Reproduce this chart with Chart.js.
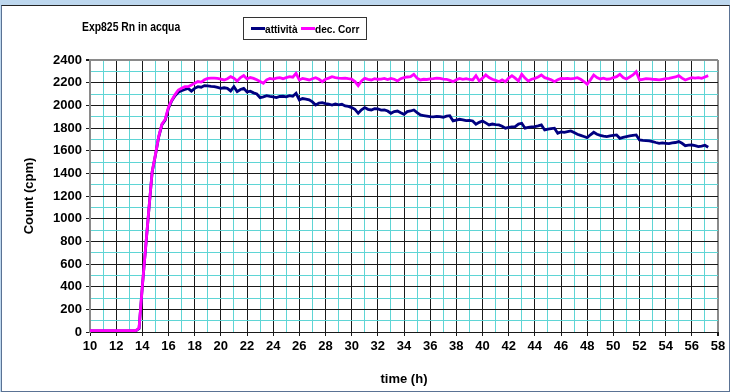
<!DOCTYPE html>
<html>
<head>
<meta charset="utf-8">
<script src="https://cdn.jsdelivr.net/npm/chart.js@4.4.1/dist/chart.umd.min.js"></script>
<style>
  html, body { margin: 0; padding: 0; }
  body { width: 730px; height: 392px; background: #bdd7ee; position: relative; overflow: hidden;
         font-family: "Liberation Sans", Arial, sans-serif; }
  #frame { position: absolute; left: 1px; top: 5px; width: 727px; height: 385px; background: #fff;
           border-top: 1px solid #222; border-left: 1px solid #5a7294; border-right: 1px solid #5a7294;
           border-bottom: 1px solid #5a7294; }
  #chart { position: absolute; left: 0; top: 0; }
  #title { position: absolute; left: 82px; top: 19px; font-weight: bold; font-size: 13px;
           transform: scaleX(0.8); transform-origin: left center; white-space: nowrap; }
  #legend { position: absolute; left: 243px; top: 17px; width: 124px; height: 23px; border: 1px solid #333;
            background: #fff; display: flex; align-items: center; padding-left: 7px; box-sizing: border-box; }
  .item { display: flex; align-items: center; margin-right: 3px; }
  .swatch { width: 14px; height: 3px; }
  .lbl { font-weight: bold; font-size: 11.5px; transform: scaleX(0.88); transform-origin: left center;
         white-space: nowrap; margin-right: -4px; }
</style>
</head>
<body>
<div id="frame"></div>
<canvas id="chart" width="730" height="392"></canvas>
<div id="title">Exp825 Rn in acqua</div>
<div id="legend"></div>
<script>
var TITLE = 'Exp825 Rn in acqua';
var SERIES_NAMES = ['attività', 'dec. Corr'];

// time (h)
var hours = [
    10, 11, 12, 13, 13.5, 13.75,
    14, 14.25, 14.5, 14.75, 15, 15.25, 15.5, 15.75, 16, 16.25, 16.5, 16.75,
    17, 17.25, 17.5, 17.75, 18, 18.25, 18.5, 18.75, 19, 19.25, 19.5, 19.75,
    20, 20.25, 20.5, 20.75, 21, 21.25, 21.5, 21.75, 22, 22.25, 22.5, 22.75,
    23, 23.25, 23.5, 23.75, 24, 24.25, 24.5, 24.75, 25, 25.25, 25.5, 25.75,
    26, 26.25, 26.5, 26.75, 27, 27.25, 27.5, 27.75, 28, 28.25, 28.5, 28.75,
    29, 29.25, 29.5, 29.75, 30, 30.25, 30.5, 30.75, 31, 31.25, 31.5, 31.75,
    32, 32.25, 32.5, 32.75, 33, 33.25, 33.5, 33.75, 34, 34.25, 34.5, 34.75,
    35, 35.25, 35.5, 35.75, 36, 36.25, 36.5, 36.75, 37, 37.25, 37.5, 37.75,
    38, 38.25, 38.5, 38.75, 39, 39.25, 39.5, 39.75, 40, 40.25, 40.5, 40.75,
    41, 41.25, 41.5, 41.75, 42, 42.25, 42.5, 42.75, 43, 43.25, 43.5, 43.75,
    44, 44.25, 44.5, 44.75, 45, 45.25, 45.5, 45.75, 46, 46.25, 46.5, 46.75,
    47, 47.25, 47.5, 47.75, 48, 48.25, 48.5, 48.75, 49, 49.25, 49.5, 49.75,
    50, 50.25, 50.5, 50.75, 51, 51.25, 51.5, 51.75, 52, 52.25, 52.5, 52.75,
    53, 53.25, 53.5, 53.75, 54, 54.25, 54.5, 54.75, 55, 55.25, 55.5, 55.75,
    56, 56.25, 56.5, 56.75, 57, 57.25
];

// attività (cpm)
var attivita = [
    10, 10, 10, 10, 10, 30,
    400, 740, 1080, 1410, 1560, 1720, 1830, 1870, 1975, 2040, 2085, 2115,
    2130, 2140, 2150, 2125, 2150, 2165, 2160, 2174, 2172, 2168, 2165, 2158,
    2150, 2155, 2150, 2127, 2165, 2121, 2140, 2150, 2118, 2125, 2110, 2100,
    2068, 2075, 2086, 2080, 2075, 2068, 2078, 2080, 2075, 2086, 2080, 2106,
    2048, 2060, 2055, 2048, 2030, 2003, 2020, 2024, 2015, 2010, 2003, 2012,
    2005, 2009, 1995, 1990, 1980, 1965, 1930, 1960, 1980, 1965, 1959, 1970,
    1968, 1958, 1960, 1950, 1930, 1945, 1950, 1935, 1921, 1945, 1950, 1959,
    1935, 1915, 1910, 1905, 1900, 1898, 1902, 1900, 1895, 1905, 1909, 1862,
    1870, 1877, 1872, 1865, 1868, 1862, 1833, 1850, 1862, 1845, 1827, 1835,
    1830, 1827, 1815, 1798, 1805, 1810, 1812, 1835, 1842, 1798, 1805, 1810,
    1812, 1818, 1827, 1783, 1790, 1795, 1798, 1754, 1765, 1762, 1768, 1774,
    1760, 1745, 1735, 1725, 1715, 1740, 1762, 1745, 1735, 1728, 1724, 1730,
    1735, 1739, 1709, 1718, 1724, 1730, 1735, 1739, 1695, 1690, 1688, 1686,
    1680, 1672, 1665, 1668, 1665, 1662, 1668, 1672, 1680, 1665, 1644, 1648,
    1650, 1645, 1636, 1640, 1648, 1630
];

// dec. Corr (cpm)
var decCorr = [
    12, 12, 12, 12, 12, 35,
    405, 745, 1085, 1415, 1565, 1725, 1835, 1878, 1985, 2045, 2095, 2135,
    2150, 2165, 2165, 2180, 2195, 2210, 2205, 2225, 2238, 2240, 2240, 2238,
    2232, 2224, 2235, 2253, 2240, 2215, 2245, 2263, 2233, 2245, 2238, 2225,
    2210, 2195, 2225, 2238, 2232, 2240, 2244, 2235, 2245, 2253, 2248, 2283,
    2224, 2238, 2232, 2224, 2235, 2244, 2230, 2209, 2230, 2240, 2253, 2245,
    2240, 2238, 2240, 2235, 2232, 2210, 2174, 2215, 2238, 2230, 2224, 2235,
    2230, 2232, 2238, 2228, 2238, 2230, 2215, 2235, 2244, 2250, 2253, 2274,
    2240, 2224, 2230, 2228, 2233, 2235, 2240, 2238, 2232, 2230, 2220, 2209,
    2225, 2238, 2230, 2235, 2228, 2224, 2262, 2215, 2240, 2268, 2245, 2230,
    2220, 2209, 2225, 2209, 2240, 2262, 2240, 2215, 2274, 2240, 2215, 2230,
    2238, 2250, 2268, 2244, 2235, 2225, 2209, 2225, 2238, 2235, 2238, 2233,
    2238, 2244, 2230, 2210, 2186, 2225, 2268, 2245, 2233, 2240, 2230, 2233,
    2245, 2253, 2274, 2245, 2233, 2250, 2268, 2297, 2224, 2230, 2235, 2233,
    2230, 2228, 2224, 2230, 2235, 2238, 2245, 2250, 2262, 2240, 2224, 2235,
    2244, 2240, 2244, 2238, 2250, 2262
];

var X_MIN = 10, X_MAX = 58;
var Y_MIN = 0, Y_MAX = 2400;

function toPoints(ys) {
    return hours.map(function (h, i) { return { x: h, y: ys[i] }; });
}

var MAJOR = '#1a1a1a';
var MINOR = '#5fd5d5';
var EDGE = '#8a8a8a';

var chart = new Chart(document.getElementById('chart'), {
    type: 'line',
    data: {
        datasets: [
            { label: SERIES_NAMES[0], data: toPoints(attivita), borderColor: '#000080', backgroundColor: '#000080',
              borderWidth: 2.8, pointRadius: 0, tension: 0, order: 1 },
            { label: SERIES_NAMES[1], data: toPoints(decCorr), borderColor: '#ff00ff', backgroundColor: '#ff00ff',
              borderWidth: 2.8, pointRadius: 0, tension: 0, order: 0 },
        ]
    },
    options: {
        responsive: false,
        animation: false,
        layout: { padding: { left: 20, top: 60, right: 12, bottom: 3 } },
        plugins: { legend: { display: false }, title: { display: false }, tooltip: { enabled: false } },
        scales: {
            x: {
                type: 'linear', min: X_MIN, max: X_MAX,
                afterFit: function (s) { s.height = 57; },
                ticks: {
                    stepSize: 1, autoSkip: false, maxRotation: 0, padding: 3, color: '#000',
                    font: { family: 'Liberation Sans, Arial', weight: 'bold', size: 13 },
                    callback: function (v) { return v % 2 === 0 ? String(v) : ''; }
                },
                grid: {
                    tickLength: 4,
                    color: function (c) { return c.tick.value === X_MAX ? EDGE : (c.tick.value % 2 === 0 ? MAJOR : MINOR); },
                    tickColor: function (c) { return c.tick.value % 2 === 0 ? MAJOR : 'rgba(0,0,0,0)'; },
                    lineWidth: function (c) { return c.tick.value === X_MAX ? 2 : 1; }
                },
                border: { color: MAJOR, width: 1 },
                title: { display: true, text: 'time (h)', color: '#000', padding: { top: 4, bottom: 2 },
                         font: { family: 'Liberation Sans, Arial', weight: 'bold', size: 13 } }
            },
            y: {
                min: Y_MIN, max: Y_MAX,
                afterFit: function (s) { s.width = 70; },
                ticks: {
                    stepSize: 100, autoSkip: false, padding: 4, color: '#000',
                    font: { family: 'Liberation Sans, Arial', weight: 'bold', size: 13 },
                    callback: function (v) { return v % 200 === 0 ? String(v) : ''; }
                },
                grid: {
                    tickLength: 4,
                    color: function (c) { return c.tick.value === Y_MAX ? EDGE : (c.tick.value % 200 === 0 ? MAJOR : MINOR); },
                    tickColor: function (c) { return c.tick.value % 200 === 0 ? MAJOR : 'rgba(0,0,0,0)'; },
                    lineWidth: function (c) { return c.tick.value === Y_MAX ? 2 : 1; }
                },
                border: { color: EDGE, width: 2 },
                title: { display: true, text: 'Count (cpm)', color: '#000', padding: { top: 2, bottom: 4 },
                         font: { family: 'Liberation Sans, Arial', weight: 'bold', size: 13 } }
            }
        }
    }
});

document.getElementById('title').textContent = TITLE;
var legend = document.getElementById('legend');
chart.data.datasets.forEach(function (ds) {
    var item = document.createElement('div');
    item.className = 'item';
    var sw = document.createElement('div');
    sw.className = 'swatch';
    sw.style.background = ds.borderColor;
    var lbl = document.createElement('span');
    lbl.className = 'lbl';
    lbl.textContent = ds.label;
    item.appendChild(sw);
    item.appendChild(lbl);
    legend.appendChild(item);
});
</script>
</body>
</html>
